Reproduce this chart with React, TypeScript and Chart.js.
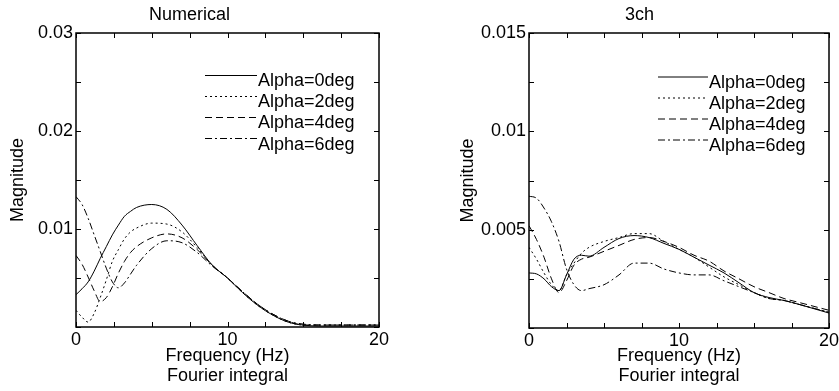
import React, { useEffect, useRef } from "react";
import { Chart, registerables } from "chart.js";

Chart.register(...registerables);

const FONT = "'Liberation Sans', Arial, Helvetica, sans-serif";
Chart.defaults.font.family = FONT;
Chart.defaults.color = "#000";

const seriesLabels = ["Alpha=0deg", "Alpha=2deg", "Alpha=4deg", "Alpha=6deg"];

// ---- Left panel: "Numerical" ----
const numericalFreqs = [0, 0.4, 0.8, 1.2, 1.6, 2.0, 2.4, 2.8, 3.2, 3.6, 4, 5, 6, 7, 8, 9, 10, 11, 12, 13, 14, 15, 16, 18, 20];
const numAlpha0 = [0.0033, 0.0039, 0.0046, 0.0057, 0.0070, 0.0082, 0.0094, 0.0104, 0.0113, 0.0118, 0.0122, 0.0125, 0.0120, 0.0104, 0.0083, 0.0063, 0.0050, 0.0035, 0.0022, 0.0012, 0.0005, 0.0002, 0.0001, 0.0001, 0.0001];
const numAlpha2 = [0.0017, 0.0010, 0.0005, 0.0014, 0.0030, 0.0048, 0.0067, 0.0079, 0.0090, 0.0097, 0.0101, 0.0106, 0.0105, 0.0097, 0.0081, 0.0063, 0.0050, 0.0035, 0.0022, 0.0012, 0.0005, 0.0002, 0.0002, 0.0002, 0.0002];
const numAlpha4 = [0.0073, 0.0064, 0.0051, 0.0037, 0.0026, 0.0030, 0.0041, 0.0055, 0.0067, 0.0076, 0.0082, 0.0091, 0.0095, 0.0091, 0.0079, 0.0063, 0.0050, 0.0036, 0.0023, 0.0013, 0.0006, 0.0002, 0.0002, 0.0002, 0.0002];
const numAlpha6 = [0.0133, 0.0125, 0.0111, 0.0094, 0.0077, 0.0060, 0.0046, 0.0040, 0.0045, 0.0054, 0.0063, 0.0080, 0.0088, 0.0086, 0.0076, 0.0062, 0.0050, 0.0036, 0.0023, 0.0013, 0.0006, 0.0003, 0.0002, 0.0002, 0.0002];

// ---- Right panel: "3ch" ----
const threeChFreqs = [0, 0.5, 1, 1.5, 2, 2.5, 3, 3.5, 4, 5, 6, 7, 8, 9, 10, 11, 12, 13, 14, 15, 16, 17, 18, 19, 20];
const threeAlpha0 = [0.0028, 0.00275, 0.0025, 0.0021, 0.0019, 0.0027, 0.0035, 0.0037, 0.00365, 0.0041, 0.00455, 0.0047, 0.0046, 0.0043, 0.0040, 0.0036, 0.0032, 0.0028, 0.0023, 0.0018, 0.00155, 0.0014, 0.0012, 0.00098, 0.00076];
const threeAlpha2 = [0.0041, 0.0035, 0.0028, 0.0022, 0.0019, 0.0027, 0.0033, 0.0038, 0.0041, 0.0044, 0.0046, 0.0048, 0.0048, 0.0044, 0.0040, 0.0036, 0.0031, 0.0026, 0.0022, 0.0018, 0.0015, 0.0014, 0.0012, 0.0010, 0.0008];
const threeAlpha4 = [0.0052, 0.0045, 0.0036, 0.0025, 0.0018, 0.0024, 0.0032, 0.0035, 0.0036, 0.0039, 0.0042, 0.0045, 0.0046, 0.0044, 0.0041, 0.0037, 0.0034, 0.0029, 0.0025, 0.0021, 0.0018, 0.0015, 0.0013, 0.0011, 0.0009];
const threeAlpha6 = [0.0067, 0.0066, 0.0061, 0.0054, 0.0044, 0.0030, 0.0022, 0.0019, 0.0020, 0.0022, 0.0027, 0.0033, 0.0033, 0.0030, 0.0028, 0.0027, 0.0027, 0.0024, 0.0021, 0.0018, 0.0015, 0.0014, 0.0012, 0.0010, 0.0008];

const dashPatterns: number[][] = [[], [2, 3], [7, 4], [7, 3, 2, 3]];

const frameTicksPlugin = {
  id: "frameTicks",
  afterDraw(chart: any) {
    const { ctx, chartArea: a, scales } = chart;
    ctx.save();
    ctx.strokeStyle = "#000";
    ctx.lineWidth = 1;
    ctx.setLineDash([]);
    const len = 5;
    ctx.beginPath();
    scales.x.ticks.forEach((t: any) => {
      const px = Math.round(scales.x.getPixelForValue(t.value)) + 0.5;
      ctx.moveTo(px, a.bottom);
      ctx.lineTo(px, a.bottom - len);
      ctx.moveTo(px, a.top);
      ctx.lineTo(px, a.top + len);
    });
    scales.y.ticks.forEach((t: any) => {
      const py = Math.round(scales.y.getPixelForValue(t.value)) + 0.5;
      ctx.moveTo(a.left, py);
      ctx.lineTo(a.left + len, py);
      ctx.moveTo(a.right, py);
      ctx.lineTo(a.right - len, py);
    });
    ctx.stroke();
    ctx.lineWidth = 1.5;
    ctx.strokeRect(a.left, a.top, a.right - a.left, a.bottom - a.top);
    ctx.restore();
  },
};

function makeLegendPlugin(dy: number, textDx: number) {
  return {
    id: "innerLegend",
    afterDraw(chart: any) {
      const { ctx, chartArea: a } = chart;
      ctx.save();
      ctx.strokeStyle = "#000";
      ctx.fillStyle = "#000";
      ctx.lineWidth = 1;
      ctx.font = `18px ${FONT}`;
      ctx.textAlign = "left";
      ctx.textBaseline = "alphabetic";
      chart.data.datasets.forEach((ds: any, i: number) => {
        const ly = a.top + 42 + dy + i * 21 + 0.5;
        ctx.setLineDash(ds.borderDash || []);
        ctx.beginPath();
        ctx.moveTo(a.left + 129, ly);
        ctx.lineTo(a.left + textDx - 1, ly);
        ctx.stroke();
        ctx.setLineDash([]);
        ctx.fillText(ds.label, a.left + textDx, a.top + 53 + dy + i * 21.2);
      });
      ctx.restore();
    },
  };
}

function makeConfig(p: {
  title: string;
  freqs: number[];
  series: number[][];
  yMax: number;
  yStep: number;
  yLabel: (v: number) => string;
  padLeft: number;
  padRight: number;
  yWidth: number;
  xHeight: number;
  legendDy: number;
  legendTextDx: number;
}): any {
  const font = { family: FONT, size: 18, weight: "normal" as const, lineHeight: 1.12 };
  return {
    type: "line",
    data: {
      datasets: p.series.map((vals, i) => ({
        label: seriesLabels[i],
        data: p.freqs.map((f, j) => ({ x: f, y: vals[j] })),
        borderColor: "#000",
        borderWidth: 1,
        borderDash: dashPatterns[i],
        pointRadius: 0,
        fill: false,
        cubicInterpolationMode: "monotone",
      })),
    },
    options: {
      animation: false,
      responsive: false,
      events: [],
      layout: { padding: { left: p.padLeft, right: p.padRight, top: 0, bottom: 0 } },
      plugins: {
        legend: { display: false },
        tooltip: { enabled: false },
        title: {
          display: true,
          text: p.title,
          color: "#000",
          font,
          padding: { top: 5, bottom: 7.84 },
        },
      },
      scales: {
        x: {
          type: "linear",
          min: 0,
          max: 20,
          afterFit(s: any) {
            s.height = p.xHeight;
            s.paddingLeft = 0;
            s.paddingRight = 0;
          },
          ticks: {
            stepSize: 2.5,
            autoSkip: false,
            maxRotation: 0,
            minRotation: 0,
            padding: 3,
            color: "#000",
            font,
            callback: (v: number) => (Math.abs(v % 10) < 1e-9 ? String(v) : ""),
          },
          grid: { display: false, drawTicks: false },
          border: { display: false },
          title: {
            display: true,
            text: ["Frequency (Hz)", "Fourier integral"],
            color: "#000",
            font,
            padding: { top: 0, bottom: 5 },
          },
        },
        y: {
          type: "linear",
          min: 0,
          max: p.yMax,
          afterFit(s: any) {
            s.width = p.yWidth;
            s.paddingTop = 0;
            s.paddingBottom = 0;
          },
          ticks: {
            stepSize: p.yStep,
            autoSkip: false,
            padding: 3,
            color: "#000",
            font,
            callback: (v: number) => p.yLabel(v),
          },
          grid: { display: false, drawTicks: false },
          border: { display: false },
          title: {
            display: true,
            text: "Magnitude",
            color: "#000",
            font,
            padding: { top: 8, bottom: 0 },
          },
        },
      },
    },
    plugins: [frameTicksPlugin, makeLegendPlugin(p.legendDy, p.legendTextDx)],
  };
}

export default function App() {
  const leftRef = useRef<HTMLCanvasElement>(null);
  const rightRef = useRef<HTMLCanvasElement>(null);

  useEffect(() => {
    if (!leftRef.current || !rightRef.current) return;
    const left = new Chart(
      leftRef.current,
      makeConfig({
        title: "Numerical",
        freqs: numericalFreqs,
        series: [numAlpha0, numAlpha2, numAlpha4, numAlpha6],
        yMax: 0.03,
        yStep: 0.005,
        yLabel: (v) => {
          const k = v * 100;
          return v > 1e-9 && Math.abs(k - Math.round(k)) < 1e-6 ? v.toFixed(2) : "";
        },
        padLeft: 0,
        padRight: 41,
        yWidth: 76,
        xHeight: 64,
        legendDy: 0,
        legendTextDx: 182,
      })
    );
    const right = new Chart(
      rightRef.current,
      makeConfig({
        title: "3ch",
        freqs: threeChFreqs,
        series: [threeAlpha0, threeAlpha2, threeAlpha4, threeAlpha6],
        yMax: 0.015,
        yStep: 0.0025,
        yLabel: (v) => {
          const k = v * 200;
          return v > 1e-9 && Math.abs(k - Math.round(k)) < 1e-6 ? String(Number(v.toFixed(4))) : "";
        },
        padLeft: 30,
        padRight: 10,
        yWidth: 79,
        xHeight: 63,
        legendDy: 1.5,
        legendTextDx: 180,
      })
    );
    return () => {
      left.destroy();
      right.destroy();
    };
  }, []);

  return (
    <div style={{ position: "fixed", left: 0, top: 0, width: 839, height: 391, background: "#fff" }}>
      <canvas ref={leftRef} width={420} height={391} style={{ position: "absolute", left: 0, top: 0 }} />
      <canvas ref={rightRef} width={419} height={391} style={{ position: "absolute", left: 420, top: 0 }} />
    </div>
  );
}
